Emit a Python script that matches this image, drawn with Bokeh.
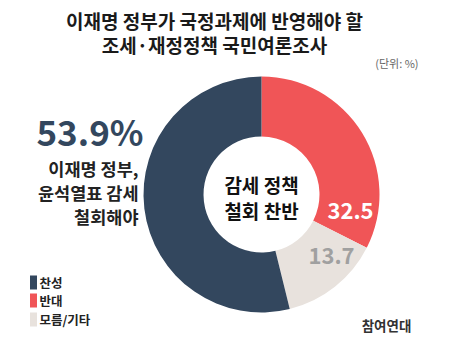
import math
from bokeh.plotting import figure
from bokeh.models import Range1d, ColumnDataSource
from bokeh.core.properties import value
from bokeh.embed import file_html
from bokeh.resources import INLINE

categories = ["반대", "모름/기타", "찬성"]
values = [32.5, 13.7, 53.9]
colors = ["#f05557", "#e8e2dd", "#33475e"]
labels = ["32.5", "13.7", ""]

legend_names = ["찬성", "반대", "모름/기타"]
legend_colors = ["#33475e", "#f05557", "#e8e2dd"]

W, H = 451, 352
FONT = value("Noto Sans CJK KR")

p = figure(width=W, height=H, x_range=Range1d(0, W), y_range=Range1d(0, H),
           output_backend="svg", toolbar_location=None, min_border=0)
p.axis.visible = False
p.grid.visible = False
p.outline_line_color = None
p.background_fill_color = "white"

cx, cy = 261, H - 194
r_out, r_in = 118, 58

total = sum(values)
starts, ends = [], []
a = math.pi / 2
for v in values:
    starts.append(a)
    a = a - v / total * 2 * math.pi
    ends.append(a)

src = ColumnDataSource(dict(start=starts, end=ends, color=colors, cat=categories))
p.annular_wedge(x=cx, y=cy, inner_radius=r_in, outer_radius=r_out,
                start_angle="start", end_angle="end", direction="clock",
                fill_color="color", line_color=None, source=src)

# title
p.text(x=[214, 214], y=[H - 20, H - 44],
       text=["이재명 정부가 국정과제에 반영해야 할", "조세·재정정책 국민여론조사"],
       text_font=FONT, text_font_style="bold", text_font_size="19px",
       text_align="center", text_baseline="middle", text_color="#1a1a1a")
p.text(x=[418], y=[H - 62], text=["(단위: %)"], text_font=FONT,
       text_font_size="11px", text_align="right", text_baseline="middle",
       text_color="#666666")

# big figure
p.text(x=[143], y=[H - 130], text=["53.9%"], text_font=FONT,
       text_font_style="bold", text_font_size="35px", text_align="right",
       text_baseline="middle", text_color="#33475e")
p.text(x=[138, 138, 138], y=[H - 168, H - 192, H - 216],
       text=["이재명 정부,", "윤석열표 감세", "철회해야"], text_font=FONT,
       text_font_style="bold", text_font_size="17.5px", text_align="right",
       text_baseline="middle", text_color="#222222")

# center text
p.text(x=[261, 261], y=[H - 184, H - 210], text=["감세 정책", "철회 찬반"],
       text_font=FONT, text_font_style="bold", text_font_size="19px",
       text_align="center", text_baseline="middle", text_color="#111111")

# slice labels
p.text(x=[350], y=[H - 210], text=[labels[0]], text_font=FONT,
       text_font_style="bold", text_font_size="22px", text_align="center",
       text_baseline="middle", text_color="white")
p.text(x=[331], y=[H - 255], text=[labels[1]], text_font=FONT,
       text_font_style="bold", text_font_size="22px", text_align="center",
       text_baseline="middle", text_color="#a0a0a0")

# legend
ly = [H - 282, H - 300, H - 319]
p.rect(x=[33] * 3, y=ly, width=7, height=14, fill_color=legend_colors,
       line_color=None)
p.text(x=[39] * 3, y=ly, text=legend_names, text_font=FONT,
       text_font_style="bold", text_font_size="12.5px", text_align="left",
       text_baseline="middle", text_color="#222222")

# source
p.text(x=[386], y=[H - 324], text=["참여연대"], text_font=FONT,
       text_font_style="bold", text_font_size="13.5px", text_align="center",
       text_baseline="middle", text_color="#333333")

open("out.html", "w").write(file_html(p, INLINE))
